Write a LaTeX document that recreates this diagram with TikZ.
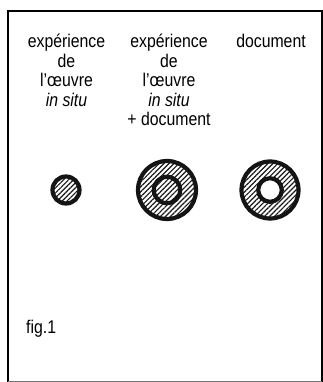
\documentclass[tikz,border=0pt]{standalone}
\usepackage{fontspec}
\setmainfont{Liberation Sans}[FakeStretch=0.86]
\usetikzlibrary{patterns.meta}
\tikzset{
  lbl/.style={align=center, inner sep=0pt, anchor=base, font=\fontsize{18.4}{19.5}\selectfont},
  hatch/.style={pattern={Lines[angle=45,distance=3.5pt,line width=1.15pt]}, pattern color=black!90},
  ring/.style={draw=black!92, line width=4.2pt},
  frame/.style={draw=black, line width=2pt}
}
\begin{document}
\begin{tikzpicture}[x=1pt,y=-1pt]
\useasboundingbox (0,0) rectangle (323,382);
% frame
\draw[frame] (8.3,382) -- (8.3,11) -- (321.7,11) -- (321.7,382);
\draw[draw=black!55, line width=1.2pt] (8.3,381.2) -- (321.7,381.2);
% labels (anchored at the baseline of their last line)
\node[lbl] (t1) at (66.5,106.5) {expérience\\de\\l’œuvre\\\textit{in situ}};
\node[lbl] (t2) at (169,126) {expérience\\de\\l’œuvre\\\textit{in situ}\\+ document};
\node[lbl] (t3) at (271,48) {document};
% circles
\coordinate (c1) at (66,190);
\coordinate (c2) at (167,190);
\coordinate (c3) at (270,190);
\fill[hatch] (c1) circle (13.5);
\draw[ring] (c1) circle (13.5);
\fill[hatch] (c2) circle (29);
\draw[ring] (c2) circle (29);
\draw[ring] (c2) circle (13.2);
\fill[hatch] (c3) circle (28.5);
\fill[white] (c3) circle (11.8);
\draw[ring] (c3) circle (28.5);
\draw[ring] (c3) circle (11.8);
% fig label
\node[lbl, anchor=base west] (fig) at (26,333.3) {fig.1};
\end{tikzpicture}
\end{document}
